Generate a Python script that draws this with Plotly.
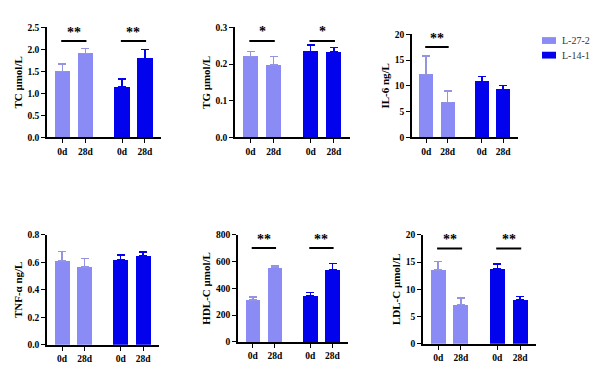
import plotly.graph_objects as go

# ---------------- data ----------------
tick_labels = ["0d", "28d", "0d", "28d"]
series_names = ["L-27-2", "L-14-1"]

y_titles = ["TC μmol/L", "TG μmol/L", "IL-6 ng/L",
            "TNF-α ng/L", "HDL-C μmol/L", "LDL-C μmol/L"]

tc_mean = [1.50, 1.91, 1.14, 1.79]
tc_err = [0.17, 0.11, 0.19, 0.21]

tg_mean = [0.221, 0.197, 0.234, 0.233]
tg_err = [0.013, 0.024, 0.018, 0.012]

il6_mean = [12.2, 6.8, 10.8, 9.3]
il6_err = [3.6, 2.25, 1.0, 0.8]

tnf_mean = [0.608, 0.566, 0.620, 0.646]
tnf_err = [0.070, 0.063, 0.035, 0.028]

hdl_mean = [314, 556, 343, 541]
hdl_err = [22, 10, 27, 46]

ldl_mean = [13.6, 7.2, 13.8, 8.05]
ldl_err = [1.5, 1.2, 0.9, 0.6]

# significance marks for (L-27-2 pair, L-14-1 pair) and height of the bracket
tc_sig = ["**", "**"]; tc_sig_y = 2.19
tg_sig = ["*", "*"]; tg_sig_y = 0.263
il6_sig = ["**", ""]; il6_sig_y = 17.5
tnf_sig = ["", ""]; tnf_sig_y = 0.75
hdl_sig = ["**", "**"]; hdl_sig_y = 701
ldl_sig = ["**", "**"]; ldl_sig_y = 17.5

# y-axis maxima and tick step
tc_axis = (2.5, 0.5, ".1f")
tg_axis = (0.3, 0.1, ".1f")
il6_axis = (20, 5, "d")
tnf_axis = (0.8, 0.2, ".1f")
hdl_axis = (800, 200, "d")
ldl_axis = (20, 5, "d")

panels = [
    (tc_mean, tc_err, tc_sig, tc_sig_y, tc_axis),
    (tg_mean, tg_err, tg_sig, tg_sig_y, tg_axis),
    (il6_mean, il6_err, il6_sig, il6_sig_y, il6_axis),
    (tnf_mean, tnf_err, tnf_sig, tnf_sig_y, tnf_axis),
    (hdl_mean, hdl_err, hdl_sig, hdl_sig_y, hdl_axis),
    (ldl_mean, ldl_err, ldl_sig, ldl_sig_y, ldl_axis),
]

# ---------------- style / layout ----------------
W, H = 600, 381
LIGHT = "#8B8BF5"
DARK = "#0202EC"
COLORS = [LIGHT, DARK]
ERR_COLORS = ["#9494E2", DARK]
FONT = "Liberation Serif"
positions = [0, 1, 2.6, 3.6]
bar_w = 0.66

# pixel boxes (x0, x1, ytop, ybottom)
boxes = [
    (47, 161, 23, 136),
    (235, 350, 23, 136),
    (412, 518, 30, 136),
    (47, 159, 236, 349),
    (238, 348, 236, 346),
    (423, 536, 236, 348),
]

fig = go.Figure()
layout = dict(width=W, height=H, margin=dict(l=0, r=0, t=0, b=0),
              paper_bgcolor="white", plot_bgcolor="white",
              bargap=0, barmode="overlay", showlegend=False)
shapes = []
annotations = []

for i, (mean, err, sig, sig_y, (ymax, dtick, fmt)) in enumerate(panels):
    n = "" if i == 0 else str(i + 1)
    xa, ya = "x" + n, "y" + n
    for g, (name, col) in enumerate(zip(series_names, COLORS)):
        idx = [2 * g, 2 * g + 1]
        fig.add_trace(go.Bar(
            x=[positions[k] for k in idx],
            y=[mean[k] for k in idx],
            width=bar_w,
            marker=dict(color=col, line=dict(width=0)),
            error_y=dict(type="data", symmetric=False,
                         array=[err[k] for k in idx],
                         arrayminus=[0, 0],
                         color=ERR_COLORS[g], thickness=1.6, width=4),
            name=name, legendgroup=name,
            xaxis=xa, yaxis=ya,
        ))
    x0, x1, yt, yb = boxes[i]
    axis_common = dict(showline=True, linecolor="black", linewidth=1.5,
                       ticks="outside", ticklen=4, tickwidth=1.3,
                       tickcolor="black", showgrid=False, zeroline=False,
                       tickfont=dict(family=FONT, size=9.5, color="black",
                                     weight="bold"))
    layout["xaxis" + n] = dict(
        domain=[x0 / W, x1 / W], anchor=ya, range=[-0.67, 4.3],
        tickmode="array", tickvals=positions, ticktext=tick_labels,
        fixedrange=True, **axis_common)
    layout["yaxis" + n] = dict(
        domain=[1 - yb / H, 1 - yt / H], anchor=xa, range=[0, ymax],
        tick0=0, dtick=dtick, tickformat=fmt,
        title=dict(text=y_titles[i], standoff=3,
                   font=dict(family=FONT, size=11, color="black",
                             weight="bold")),
        **axis_common)
    for g in range(2):
        if not sig[g]:
            continue
        a, b = positions[2 * g], positions[2 * g + 1]
        shapes.append(dict(type="line", xref=xa, yref=ya,
                           x0=a - 0.05, x1=b + 0.05, y0=sig_y, y1=sig_y,
                           line=dict(color="black", width=2)))
        annotations.append(dict(xref=xa, yref=ya, x=(a + b) / 2, y=sig_y,
                                text=sig[g], showarrow=False,
                                yanchor="middle", yshift=9,
                                font=dict(family=FONT, size=14, color="black",
                                          weight="bold")))

# legend (drawn as swatches + labels)
leg_x0, leg_x1 = 542, 556
leg_rows = [(33, 40), (48, 55)]
for (name, col), (t, b) in zip(zip(series_names, COLORS), leg_rows):
    shapes.append(dict(type="rect", xref="paper", yref="paper",
                       x0=leg_x0 / W, x1=leg_x1 / W,
                       y0=1 - b / H, y1=1 - t / H,
                       fillcolor=col, line=dict(width=0)))
    annotations.append(dict(xref="paper", yref="paper",
                            x=560 / W, y=1 - (t + b) / 2 / H,
                            xanchor="left", yanchor="middle",
                            text=name, showarrow=False,
                            font=dict(family=FONT, size=10, color="#333333")))

layout["shapes"] = shapes
layout["annotations"] = annotations
fig.update_layout(**layout)
fig.write_html("out.html",
               config={"displayModeBar": False},
               post_script="document.body.style.margin='0px';")
